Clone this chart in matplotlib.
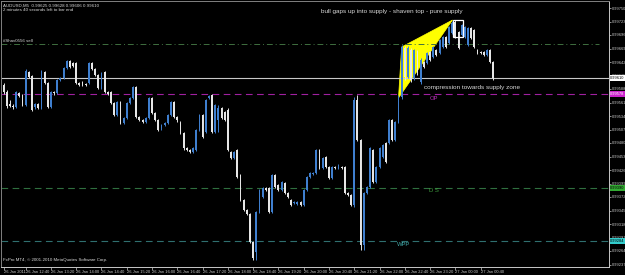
import numpy as np
import matplotlib
matplotlib.use('Agg')
import matplotlib.pyplot as plt
from matplotlib.transforms import blended_transform_factory
from matplotlib.patches import Polygon, Rectangle

plt.rcParams['font.family'] = ['Liberation Sans', 'DejaVu Sans']

# ---------------- data (AUDUSD M5, 26-27 Jan 2011) ----------------
opens = [0.99596, 0.99582, 0.99558, 0.99554, 0.99552, 0.99580, 0.99576, 0.99556, 0.99622, 0.99614,
         0.99552, 0.99558, 0.99550, 0.99622, 0.99600, 0.99552, 0.99582, 0.99580, 0.99606, 0.99610,
         0.99630, 0.99644, 0.99640, 0.99640, 0.99600, 0.99602, 0.99598, 0.99600, 0.99640, 0.99628,
         0.99616, 0.99590, 0.99622, 0.99582, 0.99582, 0.99560, 0.99536, 0.99562, 0.99520, 0.99530,
         0.99560, 0.99570, 0.99592, 0.99532, 0.99526, 0.99522, 0.99530, 0.99570, 0.99540, 0.99526,
         0.99510, 0.99516, 0.99520, 0.99536, 0.99562, 0.99532, 0.99520, 0.99500, 0.99470, 0.99466,
         0.99462, 0.99466, 0.99506, 0.99536, 0.99502, 0.99570, 0.99576, 0.99502, 0.99526, 0.99550,
         0.99542, 0.99546, 0.99462, 0.99450, 0.99466, 0.99416, 0.99366, 0.99346, 0.99338, 0.99282,
         0.99262, 0.99342, 0.99372, 0.99390, 0.99390, 0.99342, 0.99416, 0.99396, 0.99386, 0.99400,
         0.99380, 0.99366, 0.99360, 0.99358, 0.99362, 0.99356, 0.99386, 0.99412, 0.99418, 0.99420,
         0.99466, 0.99430, 0.99452, 0.99432, 0.99410, 0.99432, 0.99430, 0.99432, 0.99432, 0.99380,
         0.99376, 0.99356, 0.99566, 0.99486, 0.99276, 0.99380, 0.99392, 0.99466, 0.99402, 0.99432,
         0.99452, 0.99480, 0.99480, 0.99526, 0.99486, 0.99522, 0.99572, 0.99670, 0.99612, 0.99666,
         0.99610, 0.99662, 0.99602, 0.99642, 0.99640, 0.99662, 0.99652, 0.99666, 0.99660, 0.99672,
         0.99692, 0.99680, 0.99700, 0.99722, 0.99702, 0.99696, 0.99692, 0.99676, 0.99710, 0.99706,
         0.99666, 0.99662, 0.99662, 0.99656, 0.99666, 0.99642]
closes = [0.99582, 0.99554, 0.99554, 0.99552, 0.99582, 0.99574, 0.99556, 0.99624, 0.99612, 0.99546,
          0.99558, 0.99550, 0.99622, 0.99600, 0.99552, 0.99582, 0.99580, 0.99606, 0.99610, 0.99630,
          0.99644, 0.99632, 0.99634, 0.99600, 0.99596, 0.99596, 0.99596, 0.99640, 0.99628, 0.99616,
          0.99590, 0.99620, 0.99582, 0.99578, 0.99560, 0.99536, 0.99562, 0.99520, 0.99530, 0.99560,
          0.99570, 0.99592, 0.99532, 0.99526, 0.99522, 0.99530, 0.99570, 0.99540, 0.99526, 0.99506,
          0.99516, 0.99520, 0.99536, 0.99562, 0.99532, 0.99526, 0.99500, 0.99470, 0.99466, 0.99462,
          0.99470, 0.99506, 0.99536, 0.99492, 0.99566, 0.99574, 0.99502, 0.99556, 0.99550, 0.99530,
          0.99526, 0.99466, 0.99450, 0.99462, 0.99412, 0.99366, 0.99346, 0.99338, 0.99282, 0.99250,
          0.99342, 0.99386, 0.99390, 0.99386, 0.99342, 0.99416, 0.99392, 0.99386, 0.99402, 0.99380,
          0.99372, 0.99356, 0.99362, 0.99362, 0.99356, 0.99386, 0.99412, 0.99420, 0.99420, 0.99466,
          0.99430, 0.99450, 0.99432, 0.99410, 0.99432, 0.99430, 0.99432, 0.99430, 0.99380, 0.99376,
          0.99356, 0.99566, 0.99486, 0.99276, 0.99380, 0.99392, 0.99470, 0.99402, 0.99432, 0.99470,
          0.99476, 0.99442, 0.99526, 0.99486, 0.99522, 0.99572, 0.99672, 0.99612, 0.99670, 0.99606,
          0.99666, 0.99620, 0.99646, 0.99632, 0.99660, 0.99646, 0.99672, 0.99656, 0.99686, 0.99692,
          0.99672, 0.99712, 0.99720, 0.99692, 0.99670, 0.99716, 0.99712, 0.99710, 0.99690, 0.99672,
          0.99660, 0.99660, 0.99656, 0.99666, 0.99642, 0.99610]
highs = [0.99600, 0.99586, 0.99566, 0.99558, 0.99584, 0.99582, 0.99578, 0.99628, 0.99624, 0.99616,
         0.99560, 0.99560, 0.99626, 0.99624, 0.99602, 0.99584, 0.99584, 0.99608, 0.99612, 0.99632,
         0.99646, 0.99646, 0.99642, 0.99642, 0.99602, 0.99604, 0.99600, 0.99642, 0.99642, 0.99630,
         0.99618, 0.99622, 0.99624, 0.99584, 0.99584, 0.99562, 0.99564, 0.99564, 0.99532, 0.99562,
         0.99572, 0.99594, 0.99594, 0.99534, 0.99528, 0.99532, 0.99572, 0.99572, 0.99542, 0.99528,
         0.99518, 0.99522, 0.99538, 0.99564, 0.99564, 0.99534, 0.99524, 0.99502, 0.99472, 0.99468,
         0.99472, 0.99508, 0.99538, 0.99538, 0.99568, 0.99576, 0.99578, 0.99558, 0.99556, 0.99552,
         0.99544, 0.99550, 0.99464, 0.99464, 0.99468, 0.99418, 0.99368, 0.99348, 0.99340, 0.99284,
         0.99344, 0.99388, 0.99392, 0.99392, 0.99392, 0.99418, 0.99418, 0.99398, 0.99404, 0.99402,
         0.99382, 0.99368, 0.99364, 0.99364, 0.99364, 0.99388, 0.99414, 0.99422, 0.99422, 0.99468,
         0.99468, 0.99452, 0.99454, 0.99434, 0.99434, 0.99434, 0.99438, 0.99434, 0.99434, 0.99382,
         0.99378, 0.99572, 0.99576, 0.99488, 0.99382, 0.99394, 0.99472, 0.99468, 0.99434, 0.99472,
         0.99478, 0.99482, 0.99528, 0.99528, 0.99524, 0.99576, 0.99676, 0.99674, 0.99674, 0.99670,
         0.99668, 0.99666, 0.99650, 0.99644, 0.99662, 0.99664, 0.99674, 0.99668, 0.99688, 0.99694,
         0.99694, 0.99714, 0.99724, 0.99726, 0.99704, 0.99718, 0.99714, 0.99712, 0.99712, 0.99708,
         0.99668, 0.99664, 0.99664, 0.99668, 0.99668, 0.99644]
lows = [0.99578, 0.99550, 0.99552, 0.99548, 0.99550, 0.99572, 0.99554, 0.99554, 0.99610, 0.99544,
        0.99548, 0.99548, 0.99548, 0.99598, 0.99550, 0.99550, 0.99576, 0.99578, 0.99604, 0.99608,
        0.99628, 0.99630, 0.99632, 0.99598, 0.99594, 0.99594, 0.99594, 0.99598, 0.99626, 0.99614,
        0.99588, 0.99588, 0.99580, 0.99576, 0.99558, 0.99534, 0.99534, 0.99518, 0.99518, 0.99528,
        0.99558, 0.99568, 0.99530, 0.99524, 0.99520, 0.99520, 0.99528, 0.99538, 0.99524, 0.99504,
        0.99506, 0.99514, 0.99518, 0.99534, 0.99530, 0.99522, 0.99498, 0.99466, 0.99464, 0.99460,
        0.99460, 0.99464, 0.99504, 0.99490, 0.99500, 0.99568, 0.99500, 0.99500, 0.99502, 0.99528,
        0.99524, 0.99464, 0.99448, 0.99448, 0.99410, 0.99364, 0.99344, 0.99336, 0.99280, 0.99246,
        0.99246, 0.99340, 0.99370, 0.99384, 0.99340, 0.99340, 0.99390, 0.99384, 0.99384, 0.99378,
        0.99370, 0.99354, 0.99358, 0.99356, 0.99354, 0.99354, 0.99384, 0.99410, 0.99416, 0.99418,
        0.99428, 0.99428, 0.99430, 0.99408, 0.99408, 0.99428, 0.99428, 0.99428, 0.99378, 0.99374,
        0.99354, 0.99352, 0.99484, 0.99266, 0.99266, 0.99378, 0.99390, 0.99400, 0.99400, 0.99430,
        0.99450, 0.99440, 0.99478, 0.99484, 0.99484, 0.99520, 0.99568, 0.99606, 0.99610, 0.99602,
        0.99606, 0.99616, 0.99598, 0.99630, 0.99638, 0.99644, 0.99650, 0.99654, 0.99658, 0.99670,
        0.99670, 0.99678, 0.99698, 0.99690, 0.99668, 0.99694, 0.99690, 0.99674, 0.99688, 0.99670,
        0.99658, 0.99658, 0.99654, 0.99654, 0.99640, 0.99606]

time_label_bars = [0, 7, 15, 23, 31, 39, 47, 55, 63, 71, 79, 87, 95, 103, 111, 119, 127, 135, 143, 151]
time_labels = ["26 Jan 2011", "26 Jan 12:40", "26 Jan 13:20", "26 Jan 14:00", "26 Jan 14:40",
               "26 Jan 15:20", "26 Jan 16:00", "26 Jan 16:40", "26 Jan 17:20", "26 Jan 18:00",
               "26 Jan 18:40", "26 Jan 19:20", "26 Jan 20:00", "26 Jan 20:40", "26 Jan 21:20",
               "26 Jan 22:00", "26 Jan 22:40", "26 Jan 23:20", "27 Jan 00:00", "27 Jan 00:40"]
price_ticks = [0.99750, 0.99723, 0.99696, 0.99669, 0.99642, 0.99615, 0.99588, 0.99561, 0.99534, 0.99507,
               0.99480, 0.99453, 0.99426, 0.99399, 0.99372, 0.99345, 0.99318, 0.99291, 0.99264, 0.99237]

sell_level = 0.99678
op_level = 0.99578
ds_level = 0.99390
wpp_level = 0.99284

triangle_bars = [125.0, 126.0, 142.1]
triangle_prices = [0.99570, 0.99672, 0.99726]
box_bars = [142.1, 145.3]
box_prices = [0.99692, 0.99726]

# ---------------- figure ----------------
W, H = 625, 275
fig = plt.figure(figsize=(W / 100, H / 100), dpi=100, facecolor='black')
ax = fig.add_axes([0.5 / W, 8 / H, 608 / W, 266 / H], facecolor='black')

o = np.array(opens); c = np.array(closes); hi = np.array(highs); lo = np.array(lows)
x = np.arange(len(o))
BULL = '#3f7fcf'
BEAR = '#e6e6e6'
cols = [BULL if cc >= oo else BEAR for oo, cc in zip(o, c)]

# yellow triangle behind candles
ax.add_patch(Polygon(list(zip(triangle_bars, triangle_prices)), closed=True,
                     facecolor='#ffff00', edgecolor='#ffff00', lw=0.5, zorder=1))

ax.vlines(x, lo, hi, colors=cols, linewidth=0.7, zorder=3)
bot = np.minimum(o, c)
hgt = np.maximum(np.abs(c - o), 0.00002)
ax.bar(x, hgt, bottom=bot, width=0.58, color=cols, linewidth=0, zorder=3)

ax.add_patch(Rectangle((box_bars[0], box_prices[0]), box_bars[1] - box_bars[0],
                       box_prices[1] - box_prices[0], fill=False, edgecolor='white', lw=0.9, zorder=4))

# horizontal levels
ax.axhline(sell_level, color='#3f6f3f', lw=0.7, ls=(0, (6, 3, 1, 3)), xmax=0.985, zorder=2)
ax.axhline(c[-1], color='#c8c8c8', lw=0.8, zorder=2)
ax.axhline(op_level, color='#a020a0', lw=0.8, ls=(0, (6, 4)), zorder=2)
ax.axhline(ds_level, color='#2f6f3f', lw=0.8, ls=(0, (6, 4)), zorder=2)
ax.axhline(wpp_level, color='#2f6f6f', lw=0.8, ls=(0, (6, 4)), zorder=2)

ax.set_xlim(-0.95, 191.46)
ax.set_ylim(0.99232, 0.99764)

for s in ['left', 'top']:
    ax.spines[s].set_color('#808080'); ax.spines[s].set_linewidth(0.7)
for s in ['right', 'bottom']:
    ax.spines[s].set_color('#c8c8c8'); ax.spines[s].set_linewidth(0.7)

ax.yaxis.tick_right()
ax.set_yticks(price_ticks)
ax.set_yticklabels([f'{p:.5f}' for p in price_ticks])
ax.tick_params(axis='y', colors='#c8c8c8', labelsize=2.9, length=1.5, width=0.5, pad=1)
ax.set_xticks(time_label_bars)
ax.set_xticklabels(time_labels, ha='left')
ax.tick_params(axis='x', colors='#c8c8c8', labelsize=2.9, length=2, width=0.5, pad=0.5,
               direction='out')

# axis price boxes
tr = blended_transform_factory(ax.transAxes, ax.transData)
for val, fc, tc in [(c[-1], '#ffffff', 'black'), (op_level, '#cc22cc', 'white'),
                    (ds_level, '#33aa33', 'black'), (wpp_level, '#33cccc', 'black')]:
    ax.text(1.003, val, f'{val:.5f}', transform=tr, fontsize=2.9, color=tc, va='center', ha='left',
            bbox=dict(boxstyle='square,pad=0.2', facecolor=fc, edgecolor='none'), clip_on=False, zorder=6)

# texts
TXT = '#d8d8d8'
ax.text(0.004, 0.992, 'AUDUSD,M5  0.99625 0.99628 0.99606 0.99610', transform=ax.transAxes,
        fontsize=3.2, color=TXT, va='top', ha='left')
ax.text(0.004, 0.972, '2 minutes 40 seconds left to bar end', transform=ax.transAxes,
        fontsize=3.2, color=TXT, va='top', ha='left')
ax.text(-0.2, sell_level + 0.00002, '#Shav0556 sell', fontsize=3.2, color=TXT, va='bottom', ha='left')
ax.text(0.004, 0.018, 'FxPro MT4, \u00a9 2001-2010 MetaQuotes Software Corp.', transform=ax.transAxes,
        fontsize=3.2, color=TXT, va='bottom', ha='left')

ax.text(145.3, 0.99742, 'bull gaps up into supply - shaven top - pure supply', fontsize=4.6,
        color=TXT, va='center', ha='right', zorder=5)
ax.text(133.2, 0.99590, 'compression towards supply zone', fontsize=4.6, color=TXT,
        va='center', ha='left', zorder=5)
ax.text(135.0, 0.99570, 'OP', fontsize=4.2, color='#c030c0', va='center', ha='left')
ax.text(134.5, 0.99384, 'D S', fontsize=4.2, color='#40a040', va='center', ha='left')
ax.text(124.4, 0.99278, 'WPP', fontsize=4.2, color='#40a8a8', va='center', ha='left')

fig.savefig('out.png', dpi=100, facecolor='black')
